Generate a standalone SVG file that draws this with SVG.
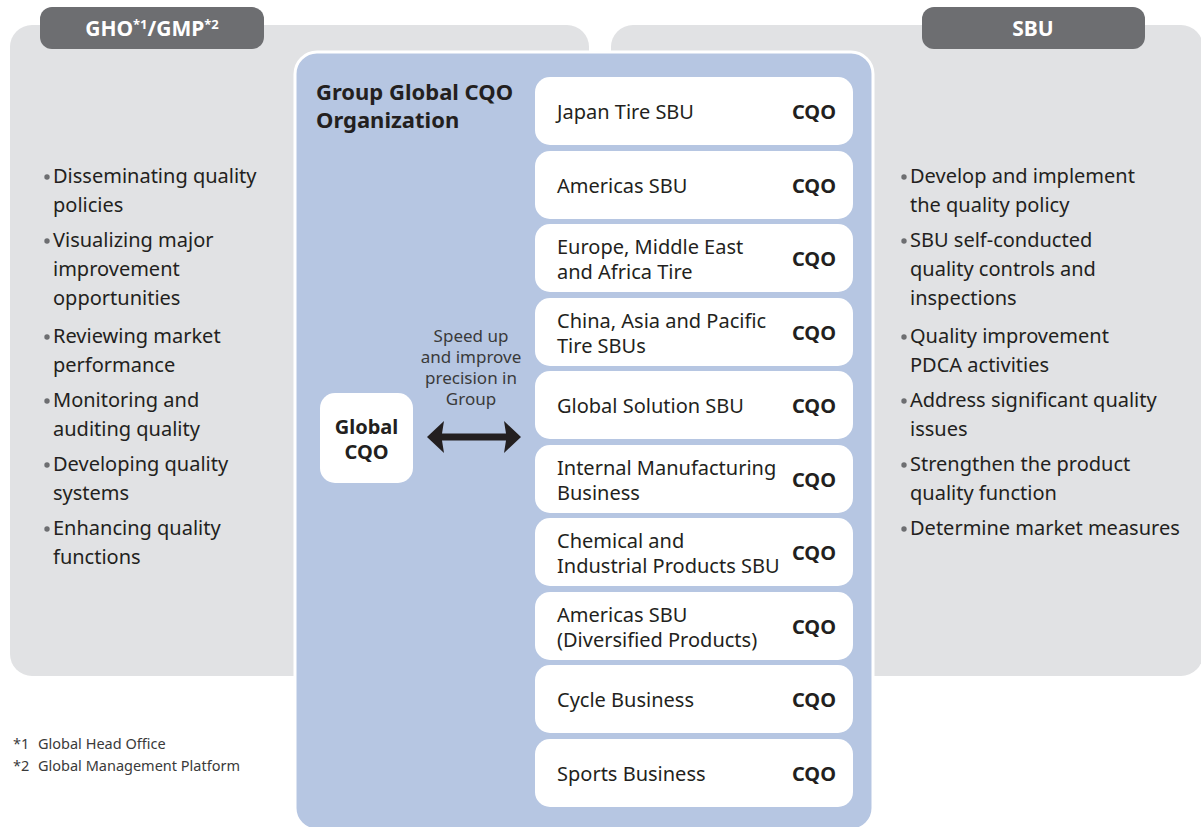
<svg xmlns="http://www.w3.org/2000/svg" width="1201" height="827" viewBox="0 0 1201 827">
<style>
.panel{fill:#e1e2e4}
.tag{fill:#6d6e71}
.tagt{font-family:"Noto Sans","Open Sans",sans-serif;font-weight:bold;font-size:21px;fill:#fff;text-anchor:middle}
.sup{font-size:13px}
.blue{fill:#b6c6e2;stroke:#fff;stroke-width:3}
.box{fill:#fff}
.t{font-family:"Noto Sans","Open Sans",sans-serif;font-size:20px;fill:#231f20}
.b{font-family:"Noto Sans","Open Sans",sans-serif;font-size:20px;font-weight:bold;fill:#231f20}
.cqo{text-anchor:end}
.title{font-family:"Noto Sans","Open Sans",sans-serif;font-size:22px;font-weight:bold;fill:#231f20}
.note{font-family:"Noto Sans","Open Sans",sans-serif;font-size:17px;fill:#3a3a3a;text-anchor:middle}
.fn{font-family:"Noto Sans","Open Sans",sans-serif;font-size:14.5px;fill:#3a3a3a}
.dot{fill:#6d6e71}
</style>
<g id="gho-panel">
<rect class="panel" x="10" y="25" width="579" height="651" rx="22"/>
<rect class="tag" x="40" y="7" width="224" height="42" rx="12"/>
<text class="tagt" x="152" y="36">GHO<tspan class="sup" dy="-7">*1</tspan><tspan dy="7">/GMP</tspan><tspan class="sup" dy="-7">*2</tspan></text>
<g id="gho-list">
<circle class="dot" cx="47" cy="177" r="2.7"/>
<text class="t" x="53" y="183">Disseminating quality<tspan x="53" dy="29">policies</tspan></text>
<circle class="dot" cx="47" cy="241" r="2.7"/>
<text class="t" x="53" y="247">Visualizing major<tspan x="53" dy="29">improvement</tspan><tspan x="53" dy="29">opportunities</tspan></text>
<circle class="dot" cx="47" cy="337" r="2.7"/>
<text class="t" x="53" y="343">Reviewing market<tspan x="53" dy="29">performance</tspan></text>
<circle class="dot" cx="47" cy="401" r="2.7"/>
<text class="t" x="53" y="407">Monitoring and<tspan x="53" dy="29">auditing quality</tspan></text>
<circle class="dot" cx="47" cy="465" r="2.7"/>
<text class="t" x="53" y="471">Developing quality<tspan x="53" dy="29">systems</tspan></text>
<circle class="dot" cx="47" cy="529" r="2.7"/>
<text class="t" x="53" y="535">Enhancing quality<tspan x="53" dy="29">functions</tspan></text>
</g>
</g>
<g id="sbu-panel">
<rect class="panel" x="611" y="25" width="592" height="651" rx="22"/>
<rect class="tag" x="922" y="7" width="223" height="42" rx="12"/>
<text class="tagt" x="1033" y="36">SBU</text>
<g id="sbu-list">
<circle class="dot" cx="904" cy="177" r="2.7"/>
<text class="t" x="910" y="183">Develop and implement<tspan x="910" dy="29">the quality policy</tspan></text>
<circle class="dot" cx="904" cy="241" r="2.7"/>
<text class="t" x="910" y="247">SBU self-conducted<tspan x="910" dy="29">quality controls and</tspan><tspan x="910" dy="29">inspections</tspan></text>
<circle class="dot" cx="904" cy="337" r="2.7"/>
<text class="t" x="910" y="343">Quality improvement<tspan x="910" dy="29">PDCA activities</tspan></text>
<circle class="dot" cx="904" cy="401" r="2.7"/>
<text class="t" x="910" y="407">Address significant quality<tspan x="910" dy="29">issues</tspan></text>
<circle class="dot" cx="904" cy="465" r="2.7"/>
<text class="t" x="910" y="471">Strengthen the product<tspan x="910" dy="29">quality function</tspan></text>
<circle class="dot" cx="904" cy="529" r="2.7"/>
<text class="t" x="910" y="535">Determine market measures</text>
</g>
</g>
<g id="cqo-org">
<rect class="blue" x="295" y="52" width="578" height="778" rx="22"/>
<text class="title" x="316" y="100">Group Global CQO<tspan x="316" dy="28">Organization</tspan></text>
</g>
<g id="global-cqo">
<rect class="box" x="320" y="393" width="93" height="90" rx="15"/>
<text class="b" x="366.5" y="433.5" text-anchor="middle">Global<tspan x="366.5" dy="25.5">CQO</tspan></text>
</g>
<g id="connectors">
<polygon fill="#231f20" points="427,437 444,421 442,433.5 506,433.5 504,421 521,437 504,453 506,440.5 442,440.5 444,453"/>
<text class="note" x="471" y="342">Speed up<tspan x="471" dy="21">and improve</tspan><tspan x="471" dy="21">precision in</tspan><tspan x="471" dy="21">Group</tspan></text>
</g>
<g id="sbu-japan">
<rect class="box" x="535" y="77" width="318" height="68" rx="15"/>
<text class="t" x="557" y="119">Japan Tire SBU</text>
<text class="b cqo" x="836" y="119">CQO</text>
</g>
<g id="sbu-americas">
<rect class="box" x="535" y="151" width="318" height="68" rx="15"/>
<text class="t" x="557" y="193">Americas SBU</text>
<text class="b cqo" x="836" y="193">CQO</text>
</g>
<g id="sbu-emea">
<rect class="box" x="535" y="224" width="318" height="68" rx="15"/>
<text class="t" x="557" y="253.5">Europe, Middle East<tspan x="557" dy="25.5">and Africa Tire</tspan></text>
<text class="b cqo" x="836" y="266">CQO</text>
</g>
<g id="sbu-china">
<rect class="box" x="535" y="298" width="318" height="68" rx="15"/>
<text class="t" x="557" y="327.5">China, Asia and Pacific<tspan x="557" dy="25.5">Tire SBUs</tspan></text>
<text class="b cqo" x="836" y="340">CQO</text>
</g>
<g id="sbu-solution">
<rect class="box" x="535" y="371" width="318" height="68" rx="15"/>
<text class="t" x="557" y="413">Global Solution SBU</text>
<text class="b cqo" x="836" y="413">CQO</text>
</g>
<g id="sbu-manufacturing">
<rect class="box" x="535" y="445" width="318" height="68" rx="15"/>
<text class="t" x="557" y="474.5">Internal Manufacturing<tspan x="557" dy="25.5">Business</tspan></text>
<text class="b cqo" x="836" y="487">CQO</text>
</g>
<g id="sbu-chemical">
<rect class="box" x="535" y="518" width="318" height="68" rx="15"/>
<text class="t" x="557" y="547.5">Chemical and<tspan x="557" dy="25.5">Industrial Products SBU</tspan></text>
<text class="b cqo" x="836" y="560">CQO</text>
</g>
<g id="sbu-diversified">
<rect class="box" x="535" y="592" width="318" height="68" rx="15"/>
<text class="t" x="557" y="621.5">Americas SBU<tspan x="557" dy="25.5">(Diversified Products)</tspan></text>
<text class="b cqo" x="836" y="634">CQO</text>
</g>
<g id="sbu-cycle">
<rect class="box" x="535" y="665" width="318" height="68" rx="15"/>
<text class="t" x="557" y="707">Cycle Business</text>
<text class="b cqo" x="836" y="707">CQO</text>
</g>
<g id="sbu-sports">
<rect class="box" x="535" y="739" width="318" height="68" rx="15"/>
<text class="t" x="557" y="781">Sports Business</text>
<text class="b cqo" x="836" y="781">CQO</text>
</g>
<g id="footnotes">
<text class="fn" x="13" y="749">*1<tspan x="38">Global Head Office</tspan></text>
<text class="fn" x="13" y="771">*2<tspan x="38">Global Management Platform</tspan></text>
</g>
</svg>
